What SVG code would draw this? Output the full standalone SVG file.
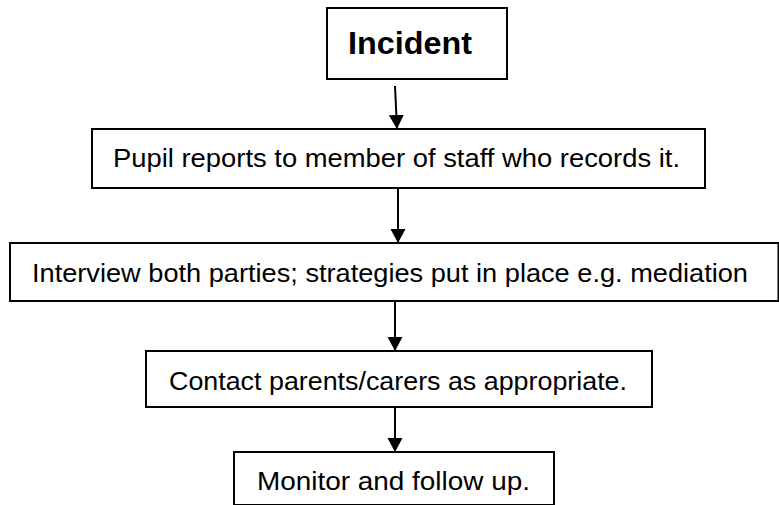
<svg xmlns="http://www.w3.org/2000/svg" width="779" height="505" viewBox="0 0 779 505">
<style>
.box{fill:#fff;stroke:#000;stroke-width:2}
.lbl{font-family:"Liberation Sans",Arial,sans-serif;font-size:25px;fill:#000}
.big{font-family:"Liberation Sans",Arial,sans-serif;font-size:31px;font-weight:bold;fill:#000}
.conn{stroke:#000;stroke-width:2;fill:none}
</style>
<defs>
<marker id="ah" markerUnits="userSpaceOnUse" markerWidth="16" markerHeight="16" refX="14" refY="7.5" orient="auto">
<path d="M0,0 L14,7.5 L0,15 Z" fill="#000"/>
</marker>
</defs>
<rect width="779" height="505" fill="#fff"/>
<g id="connectors">
<path class="conn" d="M395,86 L397,129" marker-end="url(#ah)"/>
<path class="conn" d="M398,188 L398,243" marker-end="url(#ah)"/>
<path class="conn" d="M395,301 L395,351" marker-end="url(#ah)"/>
<path class="conn" d="M395,407 L395,452" marker-end="url(#ah)"/>
</g>
<g id="incident">
<rect class="box" x="327" y="8" width="180" height="71"/>
<text class="big" x="348" y="54" textLength="124" lengthAdjust="spacingAndGlyphs">Incident</text>
</g>
<g id="pupil">
<rect class="box" x="92" y="129" width="613" height="59"/>
<text class="lbl" x="113" y="167" textLength="567" lengthAdjust="spacingAndGlyphs">Pupil reports to member of staff who records it.</text>
</g>
<g id="interview">
<rect class="box" x="10" y="243" width="768.5" height="58"/>
<text class="lbl" x="32" y="282" textLength="716" lengthAdjust="spacingAndGlyphs">Interview both parties; strategies put in place e.g. mediation</text>
</g>
<g id="contact">
<rect class="box" x="146" y="351" width="506" height="56"/>
<text class="lbl" x="169" y="390" textLength="458" lengthAdjust="spacingAndGlyphs">Contact parents/carers as appropriate.</text>
</g>
<g id="monitor">
<rect class="box" x="234" y="452" width="320" height="53"/>
<text class="lbl" x="257" y="490" textLength="273" lengthAdjust="spacingAndGlyphs">Monitor and follow up.</text>
</g>
</svg>
